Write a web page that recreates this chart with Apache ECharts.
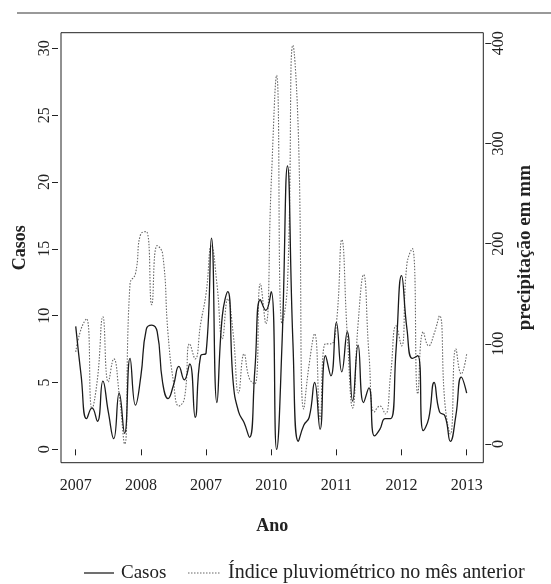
<!DOCTYPE html>
<html><head><meta charset="utf-8">
<script src="https://cdn.jsdelivr.net/npm/echarts@6/dist/echarts.min.js"></script>
<style>html,body{margin:0;padding:0;background:#fff}#c{width:551px;height:584px}</style>
</head><body><div id="c"></div>
<script>
// ---- data ----
const startYear = 2007;
const xTicks = [2007, 2008, 2009, 2010, 2011, 2012, 2013];
const xTickLabels = ['2007', '2008', '2007', '2010', '2011', '2012', '2013'];
const casosTicks = [0, 5, 10, 15, 20, 25, 30];
const chuvaTicks = [0, 100, 200, 300, 400];
const casosName = 'Casos';
const chuvaName = 'Índice pluviométrico no mês anterior';
// monthly cases, Jan 2007 ..
const casos = [
  9.2, 5.5, 2.3, 3.1, 2.1, 5.1, 2.8, 0.8, 4.2, 1.2,
  6.8, 3.3, 5.5, 9.0, 9.3, 8.8, 5.0, 3.8, 4.8, 6.2,
  5.2, 6.4, 2.4, 7.0, 7.2, 15.8, 3.5, 10.0, 11.8, 5.0,
  2.8, 2.0, 0.9, 6.0, 11.2, 10.4, 11.8, 0.0, 8.0, 21.2,
  8.0, 0.6, 1.8, 2.4, 5.0, 1.5, 7.0, 5.5, 9.5, 5.8,
  8.8, 3.6, 7.8, 3.5, 4.6, 1.0, 1.5, 2.3, 2.3, 7.5,
  13.0, 9.0, 6.8, 7.0, 1.4, 2.3, 5.0, 2.8, 2.5, 0.6,
  2.5, 5.4, 4.2
];
// monthly rainfall of previous month (mm), Jan 2007 ..
const chuva = [
  92, 115, 125, 35, 65, 127, 62, 85, 50, 0,
  160, 170, 210, 212, 139, 198, 190, 110, 62, 38,
  45, 100, 85, 120, 150, 198, 160, 105, 145, 110,
  51, 90, 65, 60, 160, 120, 260, 368, 120, 160,
  398, 310, 35, 80, 110, 25, 100, 100, 120, 204,
  110, 36, 120, 169, 90, 32, 38, 30, 70, 118,
  98, 180, 195, 50, 112, 98, 110, 128, 40, 10,
  95, 70, 90
];

const FONT = "'Liberation Serif', 'DejaVu Serif', serif";
const toPairs = arr => arr.map((v, i) => [startYear + i / 12, v]);
const INK = '#222';

const chart = echarts.init(document.getElementById('c'), null, {renderer: 'canvas'});
chart.setOption({
  animation: false,
  backgroundColor: '#fff',
  textStyle: {fontFamily: FONT},
  grid: {left: 61, right: 67.7, top: 32.7, bottom: 121.3, show: true,
         borderColor: INK, borderWidth: 1, backgroundColor: 'transparent'},
  xAxis: {
    type: 'value', min: 2006.774, max: 2013.255, offset: 3,
    name: 'Ano', nameLocation: 'middle', nameGap: 52,
    nameTextStyle: {fontFamily: FONT, fontSize: 18, fontWeight: 'bold', color: INK},
    axisLine: {show: false},
    axisTick: {show: true, length: 6, customValues: xTicks, lineStyle: {color: INK}},
    axisLabel: {customValues: xTicks, margin: 12, fontSize: 16, fontFamily: FONT, color: INK,
      formatter: v => xTickLabels[xTicks.indexOf(Math.round(v))]},
    splitLine: {show: false}
  },
  yAxis: [{
    type: 'value', position: 'left', min: -1.0, max: 31.17, offset: 3,
    name: casosName, nameLocation: 'middle', nameGap: 19, nameRotate: 90,
    nameTextStyle: {fontFamily: FONT, fontSize: 18, fontWeight: 'bold', color: INK},
    axisLine: {show: false},
    axisTick: {show: true, length: 6, customValues: casosTicks, lineStyle: {color: INK}},
    axisLabel: {customValues: casosTicks, rotate: 90, margin: 5, fontSize: 16, fontFamily: FONT, color: INK},
    splitLine: {show: false}
  }, {
    type: 'value', position: 'right', min: -18.67, max: 410.6, offset: 2,
    name: 'precipitação em mm', nameLocation: 'middle', nameGap: 30, nameRotate: 90,
    nameTextStyle: {fontFamily: FONT, fontSize: 19, fontWeight: 'bold', color: INK},
    axisLine: {show: false},
    axisTick: {show: true, length: 6, customValues: chuvaTicks, lineStyle: {color: INK}},
    axisLabel: {customValues: chuvaTicks, rotate: 90, margin: 5, fontSize: 16, fontFamily: FONT, color: INK},
    splitLine: {show: false}
  }],
  graphic: [
    {type: 'line', shape: {x1: 17, y1: 13, x2: 551, y2: 13},
     style: {stroke: '#777', lineWidth: 1.5}, silent: true},
    // legend
    {type: 'line', shape: {x1: 84, y1: 573, x2: 114, y2: 573},
     style: {stroke: INK, lineWidth: 1.3}, silent: true},
    {type: 'text', x: 121, y: 573,
     style: {text: casosName, font: "19px 'Liberation Serif', serif", fill: INK, textVerticalAlign: 'middle'}},
    {type: 'line', shape: {x1: 188, y1: 573, x2: 221, y2: 573},
     style: {stroke: '#666', lineWidth: 1.1, lineDash: [1.5, 1.5]}, silent: true},
    {type: 'text', x: 228, y: 573,
     style: {text: chuvaName, font: "20px 'Liberation Serif', serif", fill: INK, textVerticalAlign: 'middle'}}
  ],
  series: [{
    name: chuvaName, type: 'line', yAxisIndex: 1, data: toPairs(chuva),
    smooth: 0.5, symbol: 'none',
    lineStyle: {color: '#666', width: 1.1, type: [1.5, 1.5]},
    itemStyle: {color: '#666'}
  }, {
    name: casosName, type: 'line', yAxisIndex: 0, data: toPairs(casos),
    smooth: 0.5, symbol: 'none',
    lineStyle: {color: '#1a1a1a', width: 1.3, type: 'solid'},
    itemStyle: {color: '#1a1a1a'}
  }]
});
</script>
</body></html>
